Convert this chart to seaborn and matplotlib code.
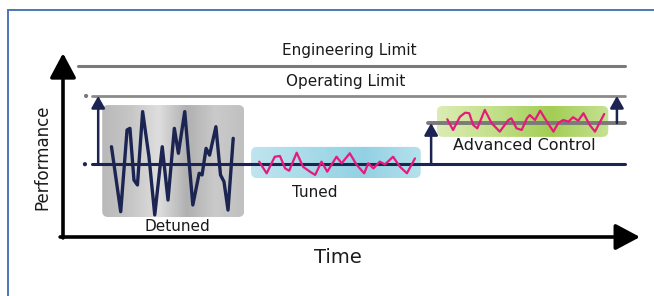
import seaborn as sns
import matplotlib.pyplot as plt
import pandas as pd
import numpy as np
from matplotlib.colors import LinearSegmentedColormap
from matplotlib.patches import FancyBboxPatch, Rectangle

# Reference levels (performance units, 0..100 along the y axis)
engineering_limit = 94.0
operating_limit = 77.5
baseline = 40.0
advanced_level = 62.6

# Detuned signal
detuned_t = [8.4, 10.0, 11.1, 11.6, 12.3, 12.9, 13.8, 14.9, 15.9, 17.2, 18.2, 19.3,
             20.0, 21.1, 22.5, 23.6, 24.1, 24.8, 25.4, 26.5, 27.3, 27.9, 28.6, 29.5]
detuned_p = [49.6, 13.9, 58.8, 59.7, 31.3, 28.6, 68.9, 44.1, 12.1, 49.6, 20.3, 59.7,
             46.0, 68.9, 17.6, 35.0, 34.1, 48.7, 45.0, 60.6, 34.1, 30.4, 14.8, 54.2]

# Tuned signal
tuned_t = [34.0, 35.3, 36.7, 37.6, 38.5, 39.2, 40.5, 41.6, 42.8, 43.7, 44.8, 45.8, 47.4,
           48.3, 49.7, 50.9, 52.2, 52.9, 53.8, 54.9, 55.8, 57.2, 58.4, 59.6, 61.0]
tuned_p = [41.4, 35.0, 44.1, 44.5, 37.7, 36.4, 46.3, 38.6, 35.9, 34.1, 41.4, 35.9, 44.1,
           40.5, 46.0, 39.6, 35.0, 40.5, 37.7, 41.4, 39.9, 44.1, 38.6, 35.0, 43.2]

# Advanced control signal
adv_t = [66.6, 67.6, 68.8, 69.7, 70.4, 71.1, 71.8, 73.1, 74.3, 75.7, 77.2, 77.7, 78.6, 79.5, 80.4,
         80.9, 81.8, 82.7, 83.5, 85.0, 85.8, 86.7, 87.6, 88.4, 89.3, 90.2, 91.3, 92.2, 93.8]
adv_p = [64.7, 58.8, 66.1, 68.3, 68.0, 61.5, 59.7, 69.8, 62.5, 57.9, 64.3, 65.2, 59.7, 58.8, 65.2,
         67.0, 64.3, 69.4, 65.2, 57.9, 62.5, 64.3, 63.4, 65.8, 63.9, 68.0, 61.5, 57.9, 67.6]

# Shaded regions: (t0, t1, p0, p1)
detuned_box = (6.8, 31.4, 11.0, 72.5)
tuned_box = (32.6, 62.0, 32.4, 49.5)
adv_box = (64.8, 94.5, 55.0, 72.0)

navy = "#1c2452"
pink = "#e8197c"
grey = "#7a7a7a"
ink = "#1a1a1a"

sns.set_style("white")
plt.rcParams["font.family"] = ["DejaVu Sans"]

fig = plt.figure(figsize=(6.54, 2.96), dpi=100)
ax = fig.add_axes([63 / 654, 59 / 296, 577 / 654, 182 / 296])

# blue frame around the figure
fig.add_artist(Rectangle((8 / 654, -0.1), 1.2, 1 - 10 / 296 + 0.1, transform=fig.transFigure,
                         fill=False, ec="#4a78b5", lw=1.4))


def gradient_box(box, colors):
    t0, t1, p0, p1 = box
    cmap = LinearSegmentedColormap.from_list("g", colors)
    grad = np.linspace(0, 1, 256).reshape(1, -1)
    im = ax.imshow(grad, extent=(t0, t1, p0, p1), aspect="auto", cmap=cmap,
                   origin="lower", zorder=1, interpolation="bicubic")
    clip = FancyBboxPatch((t0, p0), t1 - t0, p1 - p0,
                          boxstyle="round,pad=0,rounding_size=1.0", mutation_aspect=3.2,
                          transform=ax.transData, fc="none", ec="none")
    ax.add_patch(clip)
    im.set_clip_path(clip)


gradient_box(detuned_box, ["#b9b9b9", "#c6c6c6", "#dedede", "#b0b0b0", "#cacaca", "#c0c0c0"])
gradient_box(tuned_box, ["#bfe5ef", "#a9dbe9", "#92d1e4", "#b6e1ec"])
gradient_box(adv_box, ["#dcecb4", "#c2e08a", "#a3cd55", "#c6e294"])

# limit and level lines
limits = pd.DataFrame({
    "Time": [2.6, 97.4, 5.0, 97.4, 5.0, 97.4, 63.3, 97.4],
    "Performance": [engineering_limit] * 2 + [operating_limit] * 2 + [baseline] * 2 + [advanced_level] * 2,
    "Line": ["eng"] * 2 + ["op"] * 2 + ["base"] * 2 + ["adv"] * 2,
})
sns.lineplot(data=limits, x="Time", y="Performance", hue="Line", size="Line",
             sizes={"eng": 2.2, "op": 2.0, "base": 2.2, "adv": 2.8},
             palette={"eng": grey, "op": "#8a8a8a", "base": navy, "adv": grey},
             legend=False, ax=ax, zorder=2, sort=False)
ax.scatter([4.0, 3.8], [operating_limit, baseline], s=4, color=[grey, navy], zorder=3)

# signals
sns.lineplot(x=detuned_t, y=detuned_p, color=navy, linewidth=2.4, ax=ax, zorder=4, sort=False)
sns.lineplot(x=tuned_t, y=tuned_p, color=pink, linewidth=1.6, ax=ax, zorder=4, sort=False)
sns.lineplot(x=adv_t, y=adv_p, color=pink, linewidth=1.6, ax=ax, zorder=4, sort=False)

# improvement arrows
small = dict(arrowstyle="-|>,head_length=0.8,head_width=0.45", color=navy, lw=1.8,
             mutation_scale=9, shrinkA=0, shrinkB=0)
ax.annotate("", xy=(6.1, operating_limit), xytext=(6.1, baseline), arrowprops=small, zorder=5)
ax.annotate("", xy=(63.8, advanced_level), xytext=(63.8, baseline), arrowprops=small, zorder=5)
ax.annotate("", xy=(96.0, operating_limit), xytext=(96.0, advanced_level), arrowprops=small, zorder=5)

# axes arrows
big = dict(arrowstyle="-|>,head_length=0.75,head_width=0.4", color="black", lw=2.6,
           mutation_scale=20, shrinkA=0, shrinkB=0)
ax.annotate("", xy=(0, 101), xytext=(0, -0.5), arrowprops=big, annotation_clip=False)
ax.annotate("", xy=(100, 0), xytext=(-0.5, 0), arrowprops=big, annotation_clip=False)

# labels
ax.text(49.7, 102.7, "Engineering Limit", ha="center", va="center", fontsize=11, color=ink)
ax.text(49.0, 85.2, "Operating Limit", ha="center", va="center", fontsize=11, color=ink)
ax.text(19.8, 5.5, "Detuned", ha="center", va="center", fontsize=11, color=ink, zorder=6)
ax.text(43.7, 24.7, "Tuned", ha="center", va="center", fontsize=11, color=ink)
ax.text(79.9, 50.0, "Advanced Control", ha="center", va="center", fontsize=11.5, color=ink)
ax.text(47.7, -11.5, "Time", ha="center", va="center", fontsize=14, color=ink, clip_on=False)
ax.text(-3.6, 44.0, "Performance", ha="center", va="center", rotation=90, fontsize=12,
        color=ink, clip_on=False)

ax.set_xlim(0, 100)
ax.set_ylim(0, 100)
ax.set_xlabel("")
ax.set_ylabel("")
ax.set_xticks([])
ax.set_yticks([])
for s in ax.spines.values():
    s.set_visible(False)
ax.patch.set_alpha(0)

fig.savefig("out.png", dpi=100)
plt.close(fig)
